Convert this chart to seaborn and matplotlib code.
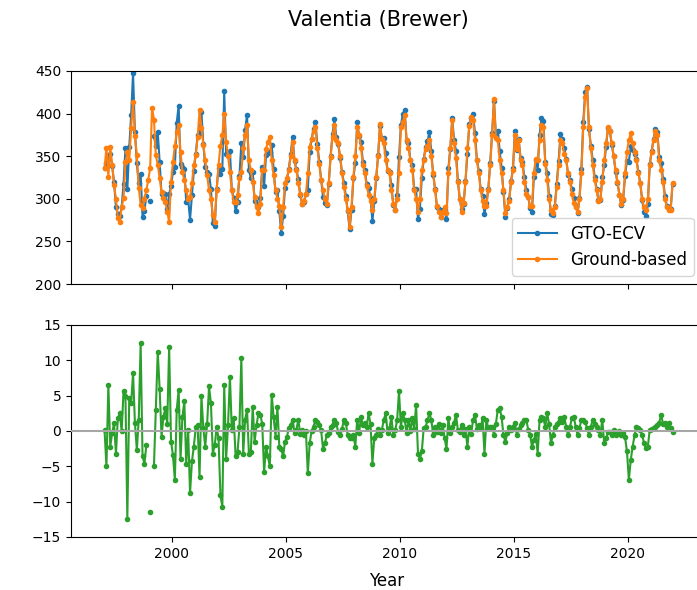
import numpy as np
import pandas as pd
import matplotlib
matplotlib.use("Agg")
import matplotlib.pyplot as plt
from matplotlib.lines import Line2D
import seaborn as sns

nan = np.nan

# Monthly total ozone at Valentia, one row per year (Jan..Dec)
years = list(range(1997, 2022))

ground_du = [
    [336, 360, 326, 361, 340, 316, 300, 277, 273, 290, 301, 343],  # 1997
    [355, 345, 383, 414, 374, 351, 313, 293, 289, 300, 310, 322],  # 1998
    [336, 407, 393, 351, 340, 324, 308, 301, 296, 285, 273, 320],  # 1999
    [343, 362, 378, 387, 355, 331, 322, 310, 300, 302, 318, 340],  # 2000
    [351, 372, 404, 383, 363, 345, 328, 310, 300, 281, 273, 310],  # 2001
    [340, 362, 375, 400, 367, 350, 331, 310, 296, 296, 305, 325],  # 2002
    [331, 360, 375, 387, 345, 334, 320, 302, 290, 283, 294, 334],  # 2003
    [334, 359, 367, 373, 345, 328, 310, 300, 292, 267, 290, 318],  # 2004
    [325, 334, 350, 367, 345, 334, 318, 306, 294, 298, 306, 330],  # 2005
    [361, 370, 380, 384, 360, 341, 322, 310, 300, 294, 318, 349],  # 2006
    [373, 387, 369, 365, 350, 330, 314, 300, 287, 267, 290, 326],  # 2007
    [350, 384, 375, 360, 340, 330, 315, 305, 298, 287, 300, 326],  # 2008
    [350, 388, 370, 365, 345, 334, 330, 310, 294, 287, 300, 330],  # 2009
    [384, 390, 398, 369, 360, 345, 334, 310, 300, 285, 300, 334],  # 2010
    [345, 359, 362, 369, 350, 330, 310, 291, 285, 279, 285, 290],  # 2011
    [283, 330, 360, 392, 365, 348, 320, 300, 285, 295, 320, 360],  # 2012
    [385, 396, 393, 369, 345, 330, 310, 298, 291, 291, 310, 340],  # 2013
    [375, 417, 371, 369, 345, 330, 310, 283, 290, 298, 320, 334],  # 2014
    [375, 359, 369, 345, 340, 320, 306, 302, 291, 291, 330, 347],  # 2015
    [345, 369, 387, 384, 341, 322, 300, 287, 283, 290, 314, 340],  # 2016
    [369, 365, 352, 345, 330, 320, 306, 295, 290, 285, 300, 330],  # 2017
    [384, 420, 430, 384, 360, 340, 322, 310, 298, 300, 320, 345],  # 2018
    [365, 384, 380, 365, 350, 334, 320, 305, 294, 300, 330, 355],  # 2019
    [369, 377, 365, 355, 345, 330, 318, 300, 290, 287, 300, 340],  # 2020
    [355, 369, 380, 375, 345, 334, 320, 300, 290, 287, 287, 318],  # 2021
]

# Relative difference GTO-ECV minus ground-based, in percent
diff_pct = [
    [0.1, -5.0, 6.5, -2.2, -0.3, 1.1, -3.2, 1.8, 2.5, 0.0, 5.6, 4.9],       # 1997
    [-12.4, 4.6, 3.9, 8.2, 1.1, -2.7, 1.6, 12.4, -3.6, -4.6, -2.0, nan],    # 1998
    [-11.4, nan, -5.0, 3.0, 11.2, 6.0, -0.8, 2.0, 3.2, 1.0, 11.9, -1.5],    # 1999
    [-3.4, -6.9, 3.0, 5.8, -3.9, 2.0, 4.2, -4.6, 0.1, -8.8, -4.3, -2.2],    # 2000
    [0.5, 0.8, -6.5, 4.9, 0.4, -2.2, 1.0, 6.3, 3.9, -3.2, -2.0, 0.5],       # 2001
    [-1.0, -9.1, -10.7, 6.5, -3.9, 0.8, 7.7, 0.1, 1.8, -3.6, -3.0, 0.5],    # 2002
    [10.3, -3.2, 1.6, 3.0, -3.2, -3.0, 3.4, -1.5, 0.8, 2.5, 2.3, 1.0],      # 2003
    [-5.8, -2.2, -3.6, -5.0, 5.1, 2.0, -0.8, 3.4, -2.2, -2.5, -3.6, -1.5],  # 2004
    [-0.8, 0.4, 0.8, 1.6, -0.3, 0.2, 1.6, -0.4, 0.1, -0.5, 0.0, -6.0],      # 2005
    [-1.7, 0.0, 0.6, 1.6, 1.3, 0.8, 0.1, -2.5, -1.7, -0.6, -0.3, 0.5],      # 2006
    [0.9, 1.6, 1.1, -0.2, -0.5, 0.3, 1.6, 1.2, -0.6, -1.0, -1.0, -0.5],     # 2007
    [-2.2, 1.6, -0.3, 2.0, 0.8, 1.2, 0.6, 2.5, 1.0, -4.6, -1.0, -0.5],      # 2008
    [0.3, -0.6, 0.2, 1.6, 2.5, -0.3, 0.4, 2.0, -0.6, 0.1, 1.5, 5.6],        # 2009
    [0.6, 2.5, 1.6, -0.3, 1.6, 0.0, 1.8, 0.3, 3.7, -3.2, -3.9, -2.9],       # 2010
    [0.4, 0.6, 1.5, 2.5, 1.6, -0.6, 0.5, -0.2, 1.0, -0.3, 0.8, -1.0],       # 2011
    [-2.5, 1.8, -0.3, 0.6, 1.2, 2.3, 0.1, -0.1, 0.9, -0.5, 0.3, -2.2],      # 2012
    [0.6, -0.4, 1.6, 2.3, 0.3, 0.9, 0.4, 1.8, -3.2, 1.6, 0.4, 0.6],         # 2013
    [0.5, -0.5, 1.0, 3.0, 3.2, 2.0, -0.6, -1.5, -0.3, 0.6, 0.2, 0.6],       # 2014
    [1.2, -0.5, 0.3, 0.8, 1.1, 1.6, 1.6, 0.2, -0.5, -2.2, -1.3, -0.4],      # 2015
    [-3.2, 1.6, 2.0, 1.8, 0.6, 2.5, 1.0, -1.7, -0.6, 0.6, 1.0, 1.3],        # 2016
    [1.8, 1.3, 2.0, 0.6, -0.6, 0.6, 1.8, 2.0, 0.6, -0.6, 0.4, 1.6],         # 2017
    [1.6, 1.3, 0.4, -0.6, 0.6, 1.6, 1.0, 0.5, 0.2, -0.6, 1.6, -1.7],        # 2018
    [-1.0, -0.2, -0.1, -0.6, 0.2, -0.6, -0.4, 0.0, -0.6, -0.3, -0.9, -2.9], # 2019
    [-6.9, -4.1, -2.2, -0.6, 0.6, 0.4, 0.1, -0.6, -1.7, -2.4, -2.2, 0.2],   # 2020
    [0.3, 0.4, 0.6, 0.8, 1.2, 2.3, 1.0, 1.2, 0.5, 1.1, 0.4, -0.1],          # 2021
]

series_labels = ["GTO-ECV", "Ground-based"]
title = "Valentia (Brewer)"

# Decimal-year time axis at mid-month
t = np.array([y + (m - 0.5) / 12 for y in years for m in range(1, 13)])
ground = np.array(ground_du, dtype=float).ravel()
diff = np.array(diff_pct, dtype=float).ravel()
gto = ground * (1 + diff / 100)


def as_segments(values):
    """Long table with a segment id so gaps break the line."""
    ok = ~np.isnan(values)
    seg = np.cumsum(~ok)
    return pd.DataFrame({"t": t[ok], "v": values[ok], "seg": seg[ok]})


blue, orange, green = "#1f77b4", "#ff7f0e", "#2ca02c"

W, H = 697, 590
fig = plt.figure(figsize=(W / 100, H / 100), dpi=100)
ax1 = fig.add_axes([71 / W, (H - 284) / H, 631 / W, 213 / H])
ax2 = fig.add_axes([71 / W, (H - 537) / H, 631 / W, 212 / H], sharex=ax1)

common = dict(x="t", y="v", units="seg", estimator=None, marker=".",
              markersize=6, linewidth=1.5, legend=False)

sns.lineplot(data=as_segments(gto), color=blue, mec=blue, mew=1.0, ax=ax1, **common)
sns.lineplot(data=as_segments(ground), color=orange, mec=orange, mew=1.0, ax=ax1, **common)
sns.lineplot(data=as_segments(diff), color=green, mec=green, mew=1.0, ax=ax2, **common)
ax2.axhline(0, color="0.65", linewidth=1.5, zorder=3)

ax1.set_ylim(200, 450)
ax1.set_yticks(range(200, 451, 50))
ax2.set_ylim(-15, 15)
ax2.set_yticks(range(-15, 16, 5))
ax1.set_xlim(1995.57, 2023.25)
ax1.set_xticks(range(2000, 2021, 5))
ax1.tick_params(labelbottom=False)

ax1.set_xlabel("")
ax1.set_ylabel("")
ax2.set_ylabel("")
ax2.set_xlabel("Year", fontsize=12, labelpad=8)

handles = [
    Line2D([], [], color=blue, marker=".", markersize=6, label=series_labels[0]),
    Line2D([], [], color=orange, marker=".", markersize=6, label=series_labels[1]),
]
ax1.legend(handles=handles, loc="lower right", fontsize=12, handlelength=2.3)

fig.text(378 / W, 1 - 20 / H, title, ha="center", va="center", fontsize=15)

fig.savefig("out.png", dpi=100)
